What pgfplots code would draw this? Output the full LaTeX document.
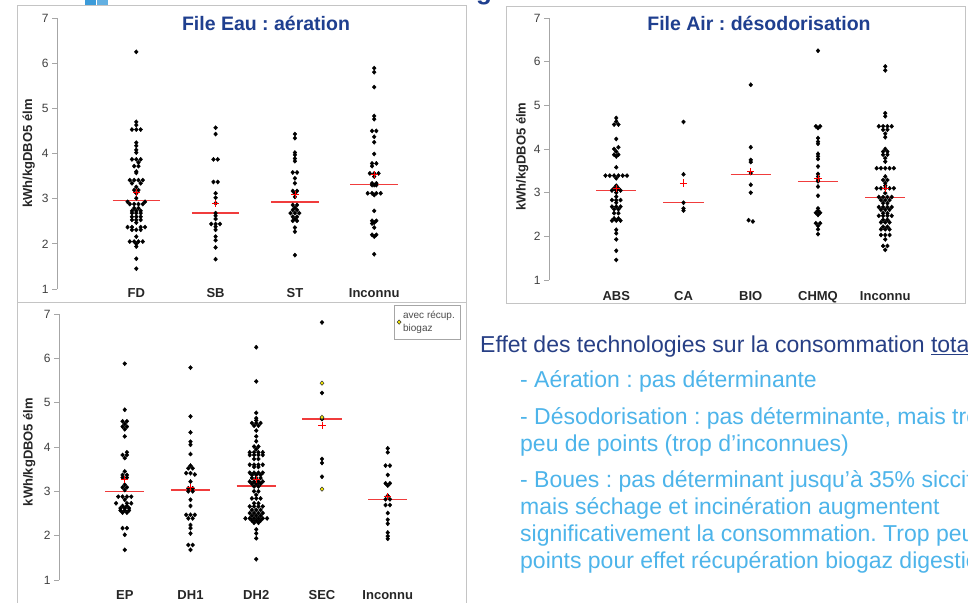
\documentclass[border=0pt]{standalone}
\usepackage{fontspec}
\setmainfont{Liberation Sans}
\usepackage{pgfplots}
\pgfplotsset{compat=1.18}
\frenchspacing
\definecolor{titleblue}{HTML}{1F3F8F}
\definecolor{navy}{HTML}{273F85}
\definecolor{lightblue}{HTML}{4DB4EA}
\definecolor{axisgray}{HTML}{A6A6A6}
\definecolor{framegray}{HTML}{C4C4C4}
\definecolor{medred}{HTML}{F03C3C}
\definecolor{decoblue}{HTML}{3C9BD9}
\definecolor{yel}{HTML}{F2E600}

\pgfplotsset{
  dotstrip/.style={
    scale only axis, clip=false,
    ymin=1, ymax=7, ytick={1,2,3,4,5,6,7},
    axis y line*=left, axis x line*=bottom,
    x axis line style={draw=none},
    y axis line style={axisgray, line width=0.8pt},
    xtick style={draw=none},
    ytick style={axisgray, line width=0.8pt},
    tick align=outside, major tick length=5pt,
    yticklabel style={font=\fontsize{12}{12}\selectfont, text=black!75},
    /pgf/number format/assume math mode=true,
    xticklabel style={font=\bfseries\fontsize{13}{13}\selectfont, text=black!85, anchor=base},
    unbounded coords=jump,
  },
  pts/.style={only marks, mark=diamond*, mark size=2.1pt, black, mark options={xscale=1.2}, forget plot},
  med/.style={medred, line width=1.4pt, forget plot},
  avg/.style={only marks, mark=+, mark size=3.6pt, red, mark options={line width=0.8pt}, forget plot},
}

\begin{document}
\begin{tikzpicture}
\useasboundingbox (0,0) rectangle (968pt,602pt);
\clip (0,0) rectangle (968pt,602pt);
\fill[white] (0,0) rectangle (968pt,602pt);
% panel frames
\draw[framegray, line width=0.9pt] (17pt,300pt) rectangle (466pt,597pt);
\draw[framegray, line width=0.9pt] (17pt,-5pt) rectangle (466pt,300pt);
\draw[framegray, line width=0.9pt] (506pt,299pt) rectangle (965pt,596pt);
\fill[decoblue] (85pt,597pt) rectangle (96pt,603pt);
\fill[decoblue!80] (97pt,597pt) rectangle (108pt,603pt);
\node[anchor=base west, text=titleblue, inner sep=0pt, font=\bfseries\fontsize{26}{26}\selectfont] at (476pt,602pt) {g};

% ---------------- Panel 1 : File Eau ----------------
\begin{axis}[dotstrip, at={(57pt,313pt)}, anchor=south west,
  width=396.5pt, height=271pt, xmin=0, xmax=5,
  xtick={1,2,3,4}, xticklabels={FD,SB,ST,Inconnu},
  xticklabel style={yshift=-4pt}]
\addplot[pts] coordinates {
(1,6.25)
(1,4.70)(1,4.63)(0.945,4.53)(1,4.53)(1.055,4.53)
(1,4.24)(1,4.17)(1,4.08)(1,4.02)
(0.945,3.87)(1,3.87)(1.055,3.87)(1.027,3.80)(0.973,3.72)(1.027,3.72)
(1,3.60)(1,3.57)
(0.918,3.41)(0.973,3.41)(1.027,3.41)(1.082,3.41)(0.945,3.34)(1.055,3.34)
(1,3.26)(0.973,3.19)(1.027,3.19)(1,3.12)(1,3.01)
(0.89,2.93)(1.11,2.93)(0.918,2.88)(0.973,2.88)(1.027,2.88)(1.082,2.88)
(0.973,2.79)(1.027,2.79)(0.945,2.73)(1,2.73)(1.055,2.73)
(0.945,2.68)(1,2.68)(1.055,2.68)(0.945,2.60)(1,2.60)(1.055,2.60)
(0.945,2.53)(1,2.53)(1.055,2.53)(1,2.47)
(0.89,2.37)(0.945,2.37)(1.055,2.37)(1.11,2.37)(0.945,2.31)(1,2.31)(1.055,2.31)
(1,2.16)(0.918,2.05)(0.973,2.05)(1.027,2.05)(1.082,2.05)(1,2.00)(1,1.94)
(1,1.67)(1,1.45)
};
\addplot[pts] coordinates {
(2,4.57)(2,4.43)(1.973,3.87)(2.027,3.87)(1.973,3.37)(2.027,3.37)
(2,3.12)(2,3.02)(2,2.90)(2,2.68)(2,2.62)(2,2.55)
(1.945,2.44)(2,2.44)(2.055,2.44)(2,2.38)(2,2.31)(2,2.16)(2,2.08)(2,1.92)(2,1.66)
};
\addplot[pts] coordinates {
(3,4.43)(3,4.34)(3,4.02)(3,3.97)(3,3.89)(3,3.83)
(2.973,3.58)(3.027,3.58)(3,3.45)(3,3.34)
(2.973,3.17)(3.027,3.17)(3,3.12)(3,3.04)
(2.973,2.86)(3.027,2.86)(3,2.80)(2.973,2.75)(3.027,2.75)
(2.945,2.68)(3,2.68)(3.055,2.68)(2.973,2.60)(3.027,2.60)(3,2.55)(2.973,2.51)(3.027,2.51)
(3,2.36)(3,2.27)(3,1.75)
};
\addplot[pts] coordinates {
(4,5.89)(4,5.80)(4,5.47)(4,4.83)(4,4.76)
(3.973,4.50)(4.027,4.50)(4,4.37)(4,4.25)(4,3.99)
(3.973,3.78)(4.027,3.78)(3.973,3.72)
(3.945,3.56)(4,3.56)(4.055,3.56)(4,3.49)
(3.973,3.34)(4.027,3.34)(3.973,3.30)(4,3.30)(4.027,3.30)
(3.918,3.12)(3.973,3.12)(4.027,3.12)(4.082,3.12)(4,3.08)
(4,2.73)(3.973,2.51)(4.027,2.51)(4,2.47)(3.973,2.45)
(4,2.36)(3.973,2.20)(4.027,2.20)(4,2.16)(4,1.77)
};
\addplot[med] coordinates {(0.7,2.96)(1.3,2.96)(nan,nan)(1.7,2.68)(2.3,2.68)(nan,nan)(2.7,2.93)(3.3,2.93)(nan,nan)(3.7,3.32)(4.3,3.32)};
\addplot[avg] coordinates {(1,3.13)(2,2.89)(3,3.09)(4,3.53)};
\end{axis}

% ---------------- Panel 2 : File Air ----------------
\begin{axis}[dotstrip, at={(549pt,322pt)}, anchor=south west,
  width=403.5pt, height=262pt, xmin=0, xmax=6,
  xtick={1,2,3,4,5}, xticklabels={ABS,CA,BIO,CHMQ,Inconnu},
  xticklabel style={yshift=-16pt}]
\addplot[pts] coordinates {
(1,4.71)(1,4.63)(0.968,4.56)(1.032,4.56)(1,4.23)
(1.032,4.04)(0.968,4.00)(1,3.94)(0.968,3.87)(1.032,3.87)(1,3.83)(1,3.58)
(0.84,3.39)(0.904,3.39)(0.968,3.39)(1.032,3.39)(1.096,3.39)(1.16,3.39)(1,3.33)
(1,3.16)(0.968,3.10)(1.032,3.10)(0.936,3.05)(1,3.05)(1.064,3.05)(1,3.00)
(1,2.91)(0.936,2.83)(1,2.83)(1.064,2.83)(1,2.77)
(0.936,2.68)(1,2.68)(1.064,2.68)(0.968,2.62)(1.032,2.62)
(0.968,2.53)(1.032,2.53)(0.968,2.41)(1.032,2.41)(0.936,2.36)(1,2.36)(1.064,2.36)
(1,2.15)(1,2.07)(1,1.93)(1,1.67)(1,1.46)
};
\addplot[pts] coordinates {(2,4.62)(2,3.42)(2,2.77)(2,2.64)(2,2.59)};
\addplot[pts] coordinates {(3,5.47)(3,4.04)(3,3.75)(3,3.70)(3,3.45)(3,3.18)(3,3.00)(2.968,2.37)(3.032,2.34)};
\addplot[pts] coordinates {
(4,6.25)(3.968,4.52)(4.032,4.52)(4,4.48)(4,4.25)(4,4.17)(4,4.12)(4,3.89)(4,3.83)(4,3.77)
(4,3.60)(4,3.43)(4,3.37)(4,3.29)(4,3.26)(4,3.14)(4,2.93)(4,2.64)(4,2.59)(3.968,2.54)(4.032,2.54)
(4,2.49)(3.968,2.30)(4.032,2.30)(4,2.24)(4,2.16)(4,2.05)
};
\addplot[pts] coordinates {
(5,5.89)(5,5.80)(5,4.82)(5,4.75)
(4.904,4.52)(4.968,4.52)(5.032,4.52)(5.096,4.52)(4.968,4.44)(5.032,4.44)(5,4.35)(5,4.27)
(5,4.00)(4.968,3.94)(5.032,3.94)(4.968,3.87)(5.032,3.87)(5,3.79)(5,3.71)
(4.872,3.56)(4.936,3.56)(5,3.56)(5.064,3.56)(5.128,3.56)
(5,3.37)(4.968,3.29)(5.032,3.29)(5,3.22)(5,3.16)
(4.872,3.10)(4.936,3.10)(5,3.10)(5.064,3.10)(5.128,3.10)
(5,2.99)(4.904,2.90)(4.968,2.90)(5.032,2.90)(5.096,2.90)
(4.936,2.83)(5,2.83)(5.064,2.83)(4.968,2.76)(5.032,2.76)
(4.904,2.67)(4.968,2.67)(5.032,2.67)(5.096,2.67)(4.936,2.61)(5,2.61)(5.064,2.61)
(4.968,2.53)(5.032,2.53)(4.904,2.47)(4.968,2.47)(5.032,2.47)(5.096,2.47)
(4.968,2.38)(5.032,2.38)(4.936,2.32)(5,2.32)(5.064,2.32)(4.968,2.22)(5.032,2.22)
(4.936,2.16)(5,2.16)(5.064,2.16)(4.936,2.03)(5,2.03)(5.064,2.03)(5,1.93)
(4.968,1.78)(5.032,1.78)(5,1.69)
};
\addplot[med] coordinates {(0.7,3.05)(1.3,3.05)(nan,nan)(1.7,2.77)(2.3,2.77)(nan,nan)(2.7,3.42)(3.3,3.42)(nan,nan)(3.7,3.26)(4.3,3.26)(nan,nan)(4.7,2.89)(5.3,2.89)};
\addplot[avg] coordinates {(1,3.10)(2,3.22)(3,3.48)(4,3.33)(5,3.10)};
\end{axis}

% ---------------- Panel 3 : Boues ----------------
\begin{axis}[dotstrip, at={(59pt,22pt)}, anchor=south west,
  width=394.5pt, height=266pt, xmin=0, xmax=6,
  xtick={1,2,3,4,5}, xticklabels={EP,DH1,DH2,SEC,Inconnu},
  xticklabel style={yshift=-14pt},
  legend style={at={(1.0165,1.034)}, anchor=north east, draw=black!35, fill=white,
    font=\fontsize{10}{13}\selectfont, text=black!70, inner xsep=3pt, inner ysep=4pt,
    cells={align=left}},
  legend cell align=left]
\addplot[pts] coordinates {
(1,5.88)(1,4.84)(0.967,4.58)(1.033,4.58)(1,4.52)(0.967,4.46)(1.033,4.46)(1,4.40)(1,4.24)
(1.033,3.88)(0.967,3.82)(1.033,3.82)(1,3.75)
(1,3.45)(0.967,3.37)(1.033,3.37)(0.967,3.31)(1.033,3.31)
(1,3.15)(0.967,3.09)(1.033,3.09)(1,3.03)
(0.901,2.88)(0.967,2.88)(1.033,2.88)(1.099,2.88)(1,2.81)
(0.868,2.73)(1.033,2.73)(1.099,2.73)(0.967,2.67)(1.033,2.67)
(0.934,2.62)(1,2.62)(1.066,2.62)(0.934,2.57)(1,2.57)(1.066,2.57)(0.967,2.52)(1.033,2.52)
(0.967,2.17)(1.033,2.17)(1,2.02)(1,1.68)
};
\addplot[pts] coordinates {
(2,5.79)(2,4.69)(2,4.33)(2,4.12)(2,4.05)(2,3.84)
(2,3.58)(1.967,3.52)(2.033,3.52)(1.934,3.41)(2,3.41)(2.066,3.38)
(2,3.22)(1.967,3.07)(2.033,3.07)(1.967,3.00)(2.033,3.00)
(2,2.81)(2,2.67)(1.934,2.47)(2,2.47)(2.066,2.47)(1.967,2.39)(2.033,2.39)
(2,2.24)(2,2.17)(2,2.05)(1.967,1.79)(2.033,1.79)(2,1.68)
};
\addplot[pts] coordinates {
(3,6.25)(3,5.48)(3,4.77)(3,4.65)(3,4.60)
(2.934,4.54)(3,4.54)(3.066,4.54)(2.967,4.48)(3.033,4.48)(3,4.37)(3,4.24)
(3,4.13)(2.967,4.01)(3.033,4.01)(3,3.95)
(2.901,3.88)(2.967,3.88)(3.033,3.88)(3.099,3.88)
(2.901,3.82)(2.967,3.82)(3.033,3.82)(3.099,3.82)(2.967,3.73)(3.033,3.73)
(2.901,3.60)(2.967,3.60)(3.033,3.60)(3.099,3.60)(2.967,3.55)(3.033,3.55)
(2.901,3.42)(2.967,3.42)(3.033,3.42)(3.099,3.42)(2.934,3.37)(3,3.37)(3.066,3.37)
(2.934,3.30)(3,3.30)(3.066,3.30)
(2.901,3.22)(2.967,3.22)(3.033,3.22)(3.099,3.22)(2.934,3.17)(3,3.17)(3.066,3.17)(2.967,3.11)(3.033,3.11)
(2.967,3.00)(3.033,3.00)(3,2.92)(2.934,2.84)(3,2.84)(3.066,2.84)
(2.967,2.73)(3.033,2.73)(2.901,2.66)(2.967,2.66)(3.033,2.66)(3.099,2.66)(2.934,2.58)(3,2.58)(3.066,2.58)
(2.901,2.51)(2.967,2.51)(3.033,2.51)(3.099,2.51)(2.934,2.45)(3,2.45)(3.066,2.45)
(2.835,2.39)(2.901,2.39)(2.967,2.39)(3.033,2.39)(3.099,2.39)(3.165,2.39)
(2.934,2.34)(3,2.34)(3.066,2.34)(2.967,2.29)(3.033,2.29)
(3,2.14)(3,2.05)(3,1.94)(3,1.47)
};
\addplot[pts] coordinates {(4,6.81)(4,5.22)(4,4.63)(4,3.73)(4,3.64)(4,3.33)};
\addplot[pts] coordinates {
(5,3.97)(5,3.88)(4.967,3.58)(5.033,3.58)(5,3.37)(4.967,3.18)(5.033,3.18)(5,3.13)
(5,2.90)(4.967,2.82)(5.033,2.82)(4.967,2.69)(5.033,2.69)(5,2.51)
(5,2.36)(5,2.27)(5,2.07)(5,1.99)(5,1.93)
};
\addplot[only marks, mark=diamond*, mark size=2.2pt, mark options={xscale=1.2, fill=yel, draw=black!80, line width=0.5pt}]
  coordinates {(4,5.44)(4,4.67)(4,3.05)};
\addlegendentry{avec récup.\\biogaz}
\addplot[med] coordinates {(0.7,2.99)(1.3,2.99)(nan,nan)(1.7,3.03)(2.3,3.03)(nan,nan)(2.7,3.12)(3.3,3.12)(nan,nan)(3.7,4.63)(4.3,4.63)(nan,nan)(4.7,2.81)(5.3,2.81)};
\addplot[avg] coordinates {(1,3.27)(2,3.09)(3,3.26)(4,4.49)(5,2.88)};
\end{axis}

% titles and y labels
\node[anchor=base, text=titleblue, inner sep=0pt, font=\bfseries\fontsize{19.5}{19.5}\selectfont] at (266pt,571pt) {File Eau : aération};
\node[anchor=base, text=titleblue, inner sep=0pt, font=\bfseries\fontsize{19.5}{19.5}\selectfont] at (759pt,571pt) {File Air : désodorisation};
\node[rotate=90, anchor=base, inner sep=0pt, text=black!85, font=\bfseries\fontsize{13}{13}\selectfont] at (32pt,448.5pt) {kWh/kgDBO5 élm};
\node[rotate=90, anchor=base, inner sep=0pt, text=black!85, font=\bfseries\fontsize{13}{13}\selectfont] at (525.7pt,445.3pt) {kWh/kgDBO5 élm};
\node[rotate=90, anchor=base, inner sep=0pt, text=black!85, font=\bfseries\fontsize{13}{13}\selectfont] at (32.7pt,150pt) {kWh/kgDBO5 élm};

% commentary text
\begin{scope}[every node/.style={anchor=base west, inner sep=0pt, font=\fontsize{23}{23}\selectfont}]
\node[text=navy] at (480pt,249pt) {Effet des technologies sur la consommation \underline{totale}};
\node[text=lightblue] at (520pt,214pt) {- Aération : pas déterminante};
\node[text=lightblue] at (520pt,177pt) {- Désodorisation : pas déterminante, mais trop};
\node[text=lightblue] at (520pt,150.3pt) {peu de points (trop d’inconnues)};
\node[text=lightblue] at (520pt,114pt) {- Boues : pas déterminant jusqu’à 35\% siccité};
\node[text=lightblue] at (520pt,88pt) {mais séchage et incinération augmentent};
\node[text=lightblue] at (520pt,60.3pt) {significativement la consommation. Trop peu de};
\node[text=lightblue] at (520pt,34pt) {points pour effet récupération biogaz digestion};
\end{scope}
\end{tikzpicture}
\end{document}
